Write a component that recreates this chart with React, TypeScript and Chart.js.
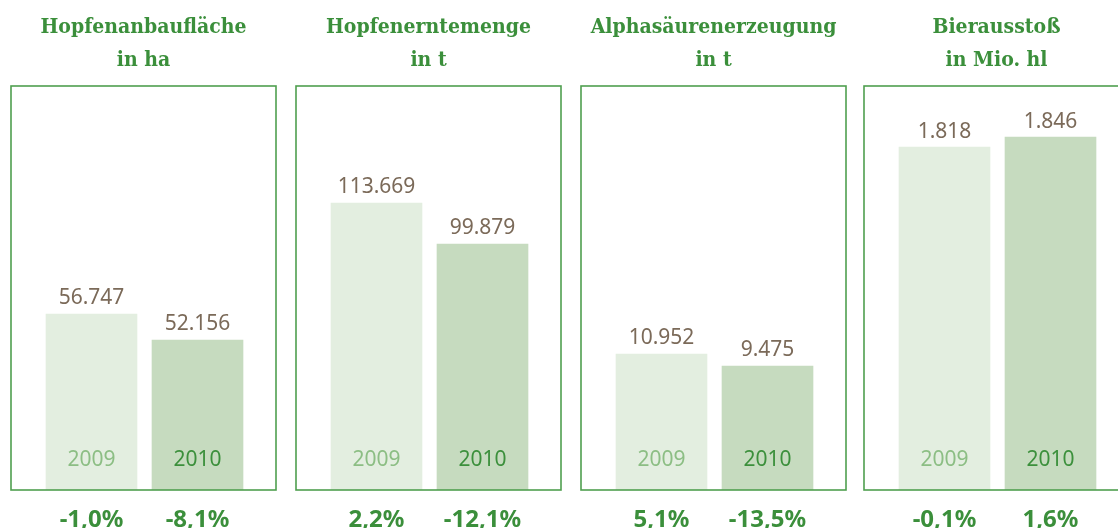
import React, { useEffect, useRef } from "react";
import { Chart, registerables } from "chart.js";

Chart.register(...registerables);

// ---------- data ----------
const panelTitles = ["Hopfenanbaufläche", "Hopfenerntemenge", "Alphasäurenerzeugung", "Bierausstoß"];
const panelUnits = ["in ha", "in t", "in t", "in Mio. hl"];
const years = ["2009", "2010"];
const values2009 = [56747, 113669, 10952, 1818];
const values2010 = [52156, 99879, 9475, 1846];
const change2009 = ["-1,0%", "2,2%", "5,1%", "-0,1%"];
const change2010 = ["-8,1%", "-12,1%", "-13,5%", "1,6%"];
// value-axis ranges of each panel (each panel has its own scale)
const axisMin = [25669, 17137, -5788, 858];
const axisMax = [97006, 153021, 43938, 1989];

// ---------- layout / style ----------
const PAGE_W = 1118;
const PAGE_H = 528;
const BOX_LEFTS = [11, 296, 581, 864];
const BOX_W = 265;
const BOX_TOP = 86;
const BOX_BOTTOM = 490;
const PAD = 10;
const CANVAS_W = 285;
const BAR_AREA_LEFT = 27.5; // relative to box
const BAR_AREA_W = 212;

const GREEN = "#3b8f3b";
const BORDER = "#4f9f4f";
const BAR_COLORS = ["#e3eee0", "#c6dbbf"];
const YEAR_COLORS = ["#8cbe84", "#3c903c"];
const VALUE_COLOR = "#7b6a59";
const TITLE_FONT = "bold 21px 'DejaVu Serif Condensed', 'DejaVu Serif', serif";
const VALUE_FONT = "21px 'Noto Sans', sans-serif";
const YEAR_FONT = "21px 'Noto Sans', sans-serif";
const PCT_FONT = "bold 24px 'Noto Sans', sans-serif";

const fmt = (v: number) => v.toLocaleString("de-DE");

function Panel({ index }: { index: number }) {
  const ref = useRef<HTMLCanvasElement>(null);

  useEffect(() => {
    const canvas = ref.current;
    if (!canvas) return;
    const changes = [change2009[index], change2010[index]];

    const decor = {
      id: "panelDecor",
      afterDatasetsDraw(chart: any) {
        const ctx = chart.ctx as CanvasRenderingContext2D;
        ctx.save();
        // frame
        ctx.strokeStyle = BORDER;
        ctx.lineWidth = 1.6;
        ctx.strokeRect(PAD, BOX_TOP, BOX_W, BOX_BOTTOM - BOX_TOP);
        // titles
        const cx = PAD + BOX_W / 2;
        ctx.fillStyle = GREEN;
        ctx.font = TITLE_FONT;
        ctx.textAlign = "center";
        ctx.textBaseline = "alphabetic";
        ctx.fillText(panelTitles[index], cx, 33);
        ctx.fillText(panelUnits[index], cx, 66);
        // bar labels
        const meta = chart.getDatasetMeta(0);
        meta.data.forEach((bar: any, i: number) => {
          const { x, y } = bar.getProps(["x", "y"], true);
          const v = chart.data.datasets[0].data[i] as number;
          ctx.font = VALUE_FONT;
          ctx.fillStyle = VALUE_COLOR;
          ctx.fillText(fmt(v), x, y - 9.5);
          ctx.font = YEAR_FONT;
          ctx.fillStyle = YEAR_COLORS[i];
          ctx.fillText(String(chart.data.labels[i]), x, 466);
          ctx.font = PCT_FONT;
          ctx.fillStyle = GREEN;
          ctx.fillText(changes[i], x, 527);
        });
        ctx.restore();
      },
    };

    const chart = new Chart(canvas, {
      type: "bar",
      data: {
        labels: years,
        datasets: [
          {
            data: [values2009[index], values2010[index]],
            backgroundColor: BAR_COLORS,
            borderWidth: 0,
            barThickness: 91,
            base: axisMin[index],
          } as any,
        ],
      },
      options: {
        responsive: false,
        animation: false,
        devicePixelRatio: 1,
        layout: {
          padding: {
            left: PAD + BAR_AREA_LEFT,
            right: CANVAS_W - (PAD + BAR_AREA_LEFT + BAR_AREA_W),
            top: BOX_TOP,
            bottom: PAGE_H - BOX_BOTTOM,
          },
        },
        plugins: {
          legend: { display: false },
          tooltip: { enabled: false },
          title: { display: false },
        },
        scales: {
          x: { display: false },
          y: { display: false, min: axisMin[index], max: axisMax[index] },
        },
      },
      plugins: [decor],
    });
    return () => chart.destroy();
  }, [index]);

  return (
    <canvas
      ref={ref}
      width={CANVAS_W}
      height={PAGE_H}
      style={{ position: "absolute", left: BOX_LEFTS[index] - PAD, top: 0, width: CANVAS_W, height: PAGE_H }}
    />
  );
}

export default function App() {
  return (
    <div
      style={{
        position: "fixed",
        left: 0,
        top: 0,
        width: PAGE_W,
        height: PAGE_H,
        overflow: "hidden",
        background: "#ffffff",
      }}
    >
      {panelTitles.map((_, i) => (
        <Panel key={i} index={i} />
      ))}
    </div>
  );
}
